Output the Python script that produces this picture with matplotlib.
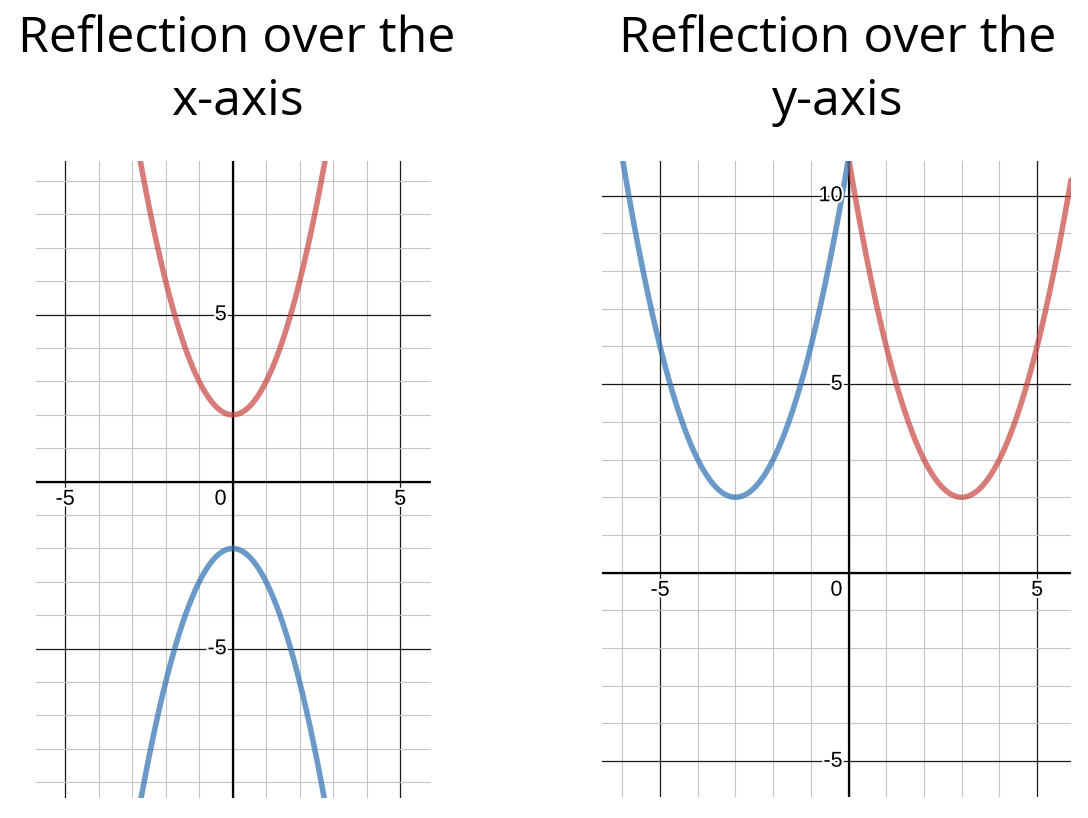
import numpy as np
import matplotlib
matplotlib.use("Agg")
import matplotlib.pyplot as plt
import matplotlib.patheffects as pe
from matplotlib.ticker import MultipleLocator

# parabolas y = a*(x - h)**2 + k  -> (a, h, k)
xaxis_original = (1, 0, 2)      # red, left panel
xaxis_reflected = (-1, 0, -2)   # blue, left panel
yaxis_original = (1, 3, 2)      # red, right panel
yaxis_reflected = (1, -3, 2)    # blue, right panel

titles = [("Reflection over the", "x-axis"), ("Reflection over the", "y-axis")]

left_xlim = (-5.88, 5.93)
left_ylim = (-9.47, 9.6)
right_xlim = (-6.54, 5.9)
right_ylim = (-5.95, 10.92)

left_xticks = [-5, 5]
left_yticks = [-5, 5]
right_xticks = [-5, 5]
right_yticks = [-5, 5, 10]

RED = "#c74440"
BLUE = "#2d70b3"
TICK_FONT = "Liberation Sans"
TITLE_FONT = "Open Sans"
W, H = 1088, 818


def parabola(ax, coef, color, xlim):
    a, h, k = coef
    xs = np.linspace(xlim[0], xlim[1], 600)
    ax.plot(xs, a * (xs - h) ** 2 + k, color=color, alpha=0.7, lw=4.0,
            solid_capstyle="round", zorder=5)


def setup_grid(ax, xlim, ylim, xticks, yticks):
    ax.set_xlim(*xlim)
    ax.set_ylim(*ylim)
    ax.xaxis.set_major_locator(MultipleLocator(5))
    ax.yaxis.set_major_locator(MultipleLocator(5))
    ax.xaxis.set_minor_locator(MultipleLocator(1))
    ax.yaxis.set_minor_locator(MultipleLocator(1))
    ax.grid(which="minor", color="#c4c4c4", lw=0.8, zorder=0)
    ax.grid(which="major", color="#1a1a1a", lw=0.9, zorder=1)
    ax.set_axisbelow(True)
    ax.axhline(0, color="black", lw=1.6, zorder=2)
    ax.axvline(0, color="black", lw=1.6, zorder=2)
    ax.tick_params(which="both", length=0, labelbottom=False, labelleft=False)
    for s in ax.spines.values():
        s.set_visible(False)

    halo = [pe.withStroke(linewidth=3, foreground="white")]
    kw = dict(textcoords="offset pixels", fontsize=15.5, family=TICK_FONT,
              zorder=6, path_effects=halo)
    for v in xticks:
        ax.annotate(str(v), (v, 0), xytext=(0, -7), ha="center", va="top", **kw)
    for v in yticks:
        ax.annotate(str(v), (0, v), xytext=(-6, 0), ha="right", va="center", **kw)
    ax.annotate("0", (0, 0), xytext=(-6, -7), ha="right", va="top", **kw)


fig = plt.figure(figsize=(W / 100, H / 100), dpi=100)

ax1 = fig.add_axes([35.7 / W, 20 / H, 395.6 / W, 637 / H])
setup_grid(ax1, left_xlim, left_ylim, left_xticks, left_yticks)
parabola(ax1, xaxis_original, RED, left_xlim)
parabola(ax1, xaxis_reflected, BLUE, left_xlim)

ax2 = fig.add_axes([602 / W, 21 / H, 469 / W, 636 / H])
setup_grid(ax2, right_xlim, right_ylim, right_xticks, right_yticks)
parabola(ax2, yaxis_original, RED, right_xlim)
parabola(ax2, yaxis_reflected, BLUE, right_xlim)

for cx, (line1, line2) in zip([237, 837.5], titles):
    fig.text(cx / W, 1 - 52 / H, line1, ha="center", va="baseline",
             fontsize=36, family=TITLE_FONT)
    fig.text(cx / W, 1 - 115 / H, line2, ha="center", va="baseline",
             fontsize=36, family=TITLE_FONT)

fig.savefig("out.png", dpi=100, facecolor="white")
